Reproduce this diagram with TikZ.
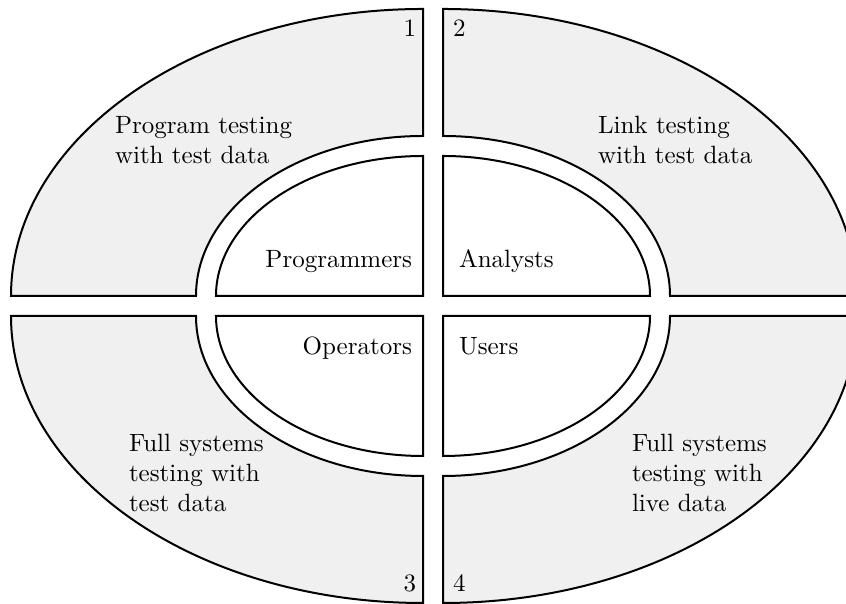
\documentclass[tikz,border=0pt]{standalone}
\definecolor{quadgrey}{RGB}{240,240,240}
\tikzset{
  ring/.style={draw=black, line width=0.8pt, fill=quadgrey, line join=miter},
  core/.style={draw=black, line width=0.8pt, fill=white, line join=miter},
  lbl/.style={inner sep=0pt, outer sep=0pt, font=\normalsize},
  multi/.style={lbl, align=left, anchor=north west}
}
\begin{document}
\begin{tikzpicture}[x=0.4pt,y=0.4pt]
\useasboundingbox (0,0) rectangle (846,604);
\clip (0,0) rectangle (846,604);
% outer ring quadrants
\draw[ring] (11,308) arc[start angle=180,end angle=90,x radius=164.8pt,y radius=114.8pt] -- (423,468) arc[start angle=90,end angle=180,x radius=90.8pt,y radius=64pt] -- cycle;
\draw[ring] (857,308) arc[start angle=0,end angle=90,x radius=165.6pt,y radius=114.8pt] -- (443,468) arc[start angle=90,end angle=0,x radius=90.8pt,y radius=64pt] -- cycle;
\draw[ring] (11,288) arc[start angle=180,end angle=270,x radius=164.8pt,y radius=114.8pt] -- (423,128) arc[start angle=270,end angle=180,x radius=90.8pt,y radius=64pt] -- cycle;
\draw[ring] (857,288) arc[start angle=0,end angle=-90,x radius=165.6pt,y radius=114.8pt] -- (443,128) arc[start angle=-90,end angle=0,x radius=90.8pt,y radius=64pt] -- cycle;
% inner quadrants
\draw[core] (216,308) arc[start angle=180,end angle=90,x radius=82.8pt,y radius=56pt] -- (423,308) -- cycle;
\draw[core] (650,308) arc[start angle=0,end angle=90,x radius=82.8pt,y radius=56pt] -- (443,308) -- cycle;
\draw[core] (216,288) arc[start angle=180,end angle=270,x radius=82.8pt,y radius=56pt] -- (423,288) -- cycle;
\draw[core] (650,288) arc[start angle=0,end angle=-90,x radius=82.8pt,y radius=56pt] -- (443,288) -- cycle;
% labels
\node[multi] (q1) at (115,488) {Program testing\\with test data};
\node[multi] (q2) at (598,488) {Link testing\\with test data};
\node[multi] (q3) at (129,170) {Full systems\\testing with\\test data};
\node[multi] (q4) at (632,170) {Full systems\\testing with\\live data};
\node[lbl, anchor=base east] (p) at (412,336) {Programmers};
\node[lbl, anchor=base west] (a) at (459,336) {Analysts};
\node[lbl, anchor=base east] (o) at (412,249) {Operators};
\node[lbl, anchor=base west] (u) at (459,249) {Users};
\node[lbl, anchor=base east] (n1) at (416,567) {1};
\node[lbl, anchor=base west] (n2) at (453,567) {2};
\node[lbl, anchor=base east] (n3) at (416,12) {3};
\node[lbl, anchor=base west] (n4) at (453,12) {4};
\end{tikzpicture}
\end{document}
